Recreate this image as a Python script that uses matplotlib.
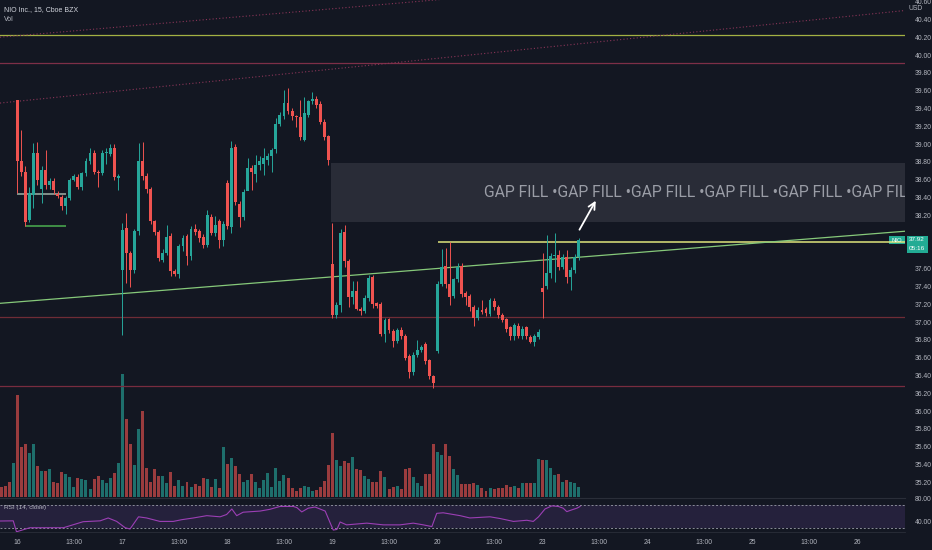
import matplotlib
matplotlib.use("Agg")
import matplotlib.pyplot as plt
from matplotlib.patches import Rectangle
import numpy as np

# NIO 15 min candles, sessions 16,17,18,19,20 and part of 23 (26 bars per session)
opens = [
    39.49, 38.81, 38.69, 38.15, 38.43, 38.90, 38.50, 38.71, 38.54, 38.59, 38.44, 38.41, 38.30, 38.39, 38.60, 38.63, 38.52, 38.67, 38.81, 38.90, 38.69, 38.67, 38.90, 38.89, 38.96, 38.62,
    37.58, 38.06, 37.78, 37.58, 38.02, 38.81, 38.64, 38.49, 38.13, 38.01, 37.70, 37.78, 37.97, 37.57, 37.54, 37.85, 37.97, 37.74, 38.04, 38.02, 37.96, 37.87, 38.18, 38.00, 38.13, 37.92,
    38.56, 38.07, 38.97, 38.33, 38.18, 38.47, 38.73, 38.66, 38.76, 38.77, 38.82, 38.86, 38.94, 39.23, 39.31, 39.46, 39.37, 39.31, 39.30, 39.05, 39.33, 39.48, 39.51, 39.45, 39.25, 39.09,
    37.65, 37.08, 37.19, 38.01, 37.68, 37.28, 37.35, 37.15, 37.12, 37.27, 37.51, 37.21, 37.20, 36.87, 37.03, 36.90, 36.79, 36.91, 36.84, 36.62, 36.44, 36.63, 36.68, 36.75, 36.57, 36.39,
    36.67, 37.43, 37.63, 37.43, 37.29, 37.48, 37.63, 37.33, 37.29, 37.17, 37.04, 37.13, 37.15, 37.09, 37.24, 37.17, 37.08, 37.03, 36.94, 36.84, 36.96, 36.84, 36.94, 36.83, 36.78, 36.83,
    37.38, 37.40, 37.55, 37.74, 37.75, 37.62, 37.73, 37.51, 37.59, 37.73,
]
highs = [
    39.50, 39.16, 38.75, 38.52, 39.01, 39.02, 38.75, 38.93, 38.62, 38.62, 38.47, 38.43, 38.42, 38.62, 38.66, 38.66, 38.69, 38.84, 38.95, 38.93, 38.71, 38.93, 38.95, 39.00, 39.00, 38.66,
    38.11, 38.22, 37.80, 38.05, 39.01, 39.02, 38.67, 38.52, 38.15, 38.03, 37.82, 38.09, 38.00, 37.60, 37.88, 37.98, 37.99, 38.08, 38.10, 38.05, 37.99, 38.26, 38.21, 38.19, 38.16, 38.13,
    38.60, 39.03, 39.00, 38.36, 38.49, 38.84, 38.76, 38.88, 38.87, 38.95, 38.90, 38.95, 39.29, 39.36, 39.61, 39.63, 39.40, 39.33, 39.50, 39.53, 39.50, 39.58, 39.54, 39.48, 39.28, 39.10,
    38.11, 37.22, 38.05, 38.09, 37.71, 37.46, 37.46, 37.17, 37.30, 37.53, 37.53, 37.23, 37.22, 37.04, 37.05, 36.92, 36.93, 36.94, 36.86, 36.64, 36.66, 36.80, 36.74, 36.78, 36.59, 36.40,
    37.46, 37.82, 37.83, 37.90, 37.50, 37.66, 37.66, 37.35, 37.31, 37.19, 37.17, 37.25, 37.17, 37.27, 37.27, 37.19, 37.10, 37.05, 36.96, 36.99, 36.99, 36.95, 36.96, 36.85, 36.86, 36.92,
    37.78, 37.98, 37.77, 38.00, 37.81, 37.76, 37.81, 37.62, 37.76, 37.94,
]
lows = [
    38.45, 38.64, 38.08, 38.12, 38.28, 38.54, 38.34, 38.50, 38.50, 38.44, 38.39, 38.26, 38.21, 38.37, 38.58, 38.50, 38.48, 38.64, 38.78, 38.66, 38.52, 38.65, 38.78, 38.87, 38.60, 38.48,
    36.85, 37.44, 37.39, 37.55, 37.98, 38.60, 38.45, 38.10, 37.98, 37.68, 37.67, 37.75, 37.52, 37.52, 37.49, 37.80, 37.64, 37.70, 37.98, 37.90, 37.83, 37.84, 37.98, 37.97, 37.83, 37.85,
    38.04, 38.00, 38.32, 38.07, 38.15, 38.48, 38.48, 38.57, 38.71, 38.65, 38.76, 38.68, 38.90, 39.20, 39.28, 39.34, 39.27, 39.19, 39.05, 39.03, 39.30, 39.45, 39.40, 39.22, 39.04, 38.76,
    37.05, 37.05, 37.11, 37.62, 37.17, 37.20, 37.13, 37.08, 37.10, 37.24, 37.16, 37.16, 36.84, 36.78, 36.88, 36.72, 36.76, 36.81, 36.57, 36.37, 36.40, 36.61, 36.66, 36.53, 36.36, 36.26,
    36.65, 37.40, 37.38, 37.19, 37.27, 37.45, 37.28, 37.19, 37.12, 36.95, 37.02, 37.09, 37.07, 37.07, 37.14, 37.05, 37.00, 36.89, 36.80, 36.80, 36.82, 36.81, 36.81, 36.76, 36.73, 36.81,
    37.05, 37.37, 37.50, 37.45, 37.59, 37.60, 37.44, 37.36, 37.55, 37.70,
]
closes = [
    38.81, 38.69, 38.12, 38.45, 38.90, 38.60, 38.71, 38.54, 38.59, 38.48, 38.42, 38.30, 38.39, 38.60, 38.64, 38.52, 38.67, 38.81, 38.90, 38.69, 38.67, 38.90, 38.91, 38.95, 38.63, 38.64,
    38.03, 37.78, 37.58, 38.02, 38.81, 38.64, 38.49, 38.13, 38.01, 37.72, 37.78, 37.96, 37.57, 37.54, 37.85, 37.94, 37.74, 38.05, 38.01, 37.94, 37.87, 38.20, 38.00, 38.09, 37.92, 38.10,
    38.08, 38.95, 38.35, 38.18, 38.46, 38.73, 38.68, 38.76, 38.81, 38.84, 38.87, 38.93, 39.23, 39.33, 39.46, 39.37, 39.31, 39.30, 39.08, 39.35, 39.48, 39.51, 39.44, 39.25, 39.08, 38.82,
    37.08, 37.19, 38.00, 37.68, 37.28, 37.35, 37.15, 37.12, 37.27, 37.50, 37.20, 37.18, 36.87, 37.02, 36.91, 36.79, 36.91, 36.84, 36.60, 36.44, 36.63, 36.69, 36.72, 36.56, 36.39, 36.31,
    37.43, 37.62, 37.43, 37.28, 37.48, 37.62, 37.31, 37.28, 37.17, 37.05, 37.13, 37.11, 37.10, 37.25, 37.17, 37.08, 37.02, 36.92, 36.84, 36.97, 36.84, 36.92, 36.84, 36.78, 36.84, 36.89,
    37.34, 37.55, 37.74, 37.75, 37.62, 37.73, 37.51, 37.59, 37.73, 37.92,
]
# volume, thousands of shares
volume = [
    2040, 1006, 1060, 874, 1060, 620, 526, 526, 566, 300, 286, 500, 454, 394, 194, 386, 354, 340, 154, 354, 420, 340, 286, 386, 474, 674,
    2460, 1560, 1060, 640, 1360, 1720, 580, 300, 560, 420, 420, 280, 500, 220, 340, 220, 300, 200, 260, 220, 380, 360, 200, 360, 180, 1000,
    660, 780, 620, 460, 300, 340, 460, 300, 180, 340, 480, 200, 580, 320, 440, 380, 180, 120, 180, 220, 206, 126, 140, 206, 326, 634,
    1286, 740, 620, 726, 674, 806, 560, 540, 420, 354, 300, 300, 526, 394, 154, 206, 220, 166, 566, 574, 406, 274, 220, 460, 460, 1060,
    906, 840, 1060, 820, 566, 434, 260, 260, 260, 274, 234, 174, 126, 174, 154, 174, 174, 234, 206, 220, 180, 274, 274, 274, 274, 754,
    740, 740, 574, 440, 454, 306, 340, 306, 274, 206,
]
# last bars of the previous session, only their volume is on screen
pre_volume = [206, 220, 306, 674]
pre_up = [False, False, False, True]

# RSI(14): bar position, value
rsi_pos = [-4.3, -1, -0.2, 3.1, 11.4, 16.3, 20.5, 22.5, 24.6, 26.7, 27.9, 30, 32, 35.3, 38.6, 40.7,
           43.6, 46.9, 50.2, 51.8, 53.1, 54.3, 55.9, 60.1, 62.5, 65, 68.3, 69.2, 70.4, 72, 73.7, 76.2,
           77.4, 78.2, 79.1, 79.9, 81.5, 86.5, 90.6, 94.7, 98, 100.5, 102.6, 103.8, 105.4, 109.6, 112,
           114.5, 117, 119.5, 122.8, 126.1, 127.7, 129, 130.6, 132.3, 133.9, 135.1, 136, 137.2, 138.5, 139.3]
rsi_val = [41.7, 42, 23, 30, 30, 40.5, 42, 47, 41, 30, 27.8, 49, 47, 41, 41, 44,
           47, 51, 49, 53, 62.6, 51, 57, 59, 62, 67, 67, 65, 57.5, 64, 66, 59,
           39, 26, 27, 40, 35, 38, 35, 35, 38, 35, 32, 55, 56, 51, 47,
           48, 49, 46, 41, 43, 41, 49, 62.6, 68, 67, 64, 58, 61, 64, 67]

day_labels = ["16", "17", "18", "19", "20", "23", "24", "25", "26"]
bars_per_day = 26

# drawn levels
h_levels = [40.22, 39.91, 37.06, 36.28]
h_colors = ["#a3b143", "#7e2f48", "#6f2c36", "#782c3f"]
res_level = 37.90
res_start = 104
trend_start = (-4.28, 37.21)
trend_end = (219.7, 38.02)
dotted_a = [(-4.28, 39.46), (219.7, 40.50)]
dotted_b = [(-4.28, 40.20), (219.7, 41.07)]
gap_low, gap_high, gap_start = 38.12, 38.79, 77.6
box_levels = [(38.44, 0, 12, "#9fb3a8"), (38.08, 1.9, 12, "#4caf50")]

BG = "#131722"
UP = "#26a69a"
DOWN = "#ef5350"
TXT = "#b2b5be"
W, H = 932, 550

plt.rcParams["font.family"] = ["Liberation Sans", "DejaVu Sans"]

fig = plt.figure(figsize=(W / 100, H / 100), dpi=100, facecolor=BG)


def fx(px):
    return px / W


def fy(py):
    return 1 - py / H


ax = fig.add_axes([0, fy(497), fx(905), 497 / H])
axv = ax.twinx()
axr = fig.add_axes([0, fy(532), fx(905), 34 / H])

ax.set_zorder(2)
axv.set_zorder(1)
ax.patch.set_visible(False)
axv.set_facecolor(BG)
axr.set_facecolor(BG)

x = np.arange(len(closes))
xlim = (-4.28, 219.7)
for a in (ax, axv, axr):
    a.set_xlim(*xlim)
    for s in a.spines.values():
        s.set_visible(False)
ax.set_ylim(35.034, 40.618)

# volume
up = np.array(closes) >= np.array(opens)
vcol = np.where(up, UP, DOWN)
axv.bar(x, volume, width=0.74, color=vcol, alpha=0.62, linewidth=0)
axv.bar(np.arange(-len(pre_volume), 0), pre_volume, width=0.74,
        color=[UP if u else DOWN for u in pre_up], alpha=0.62, linewidth=0)
axv.set_ylim(0, 497 * 20)
axv.set_yticks([])
axv.tick_params(right=False, labelright=False)

# gap zone and text
ax.add_patch(Rectangle((gap_start, gap_low), xlim[1] - gap_start, gap_high - gap_low,
                       facecolor="#787b86", alpha=0.22, linewidth=0, zorder=1))
ax.text(115.5, 38.46, "GAP FILL •GAP FILL •GAP FILL •GAP FILL •GAP FILL •GAP FILL",
        family=["Roboto", "DejaVu Sans"], fontsize=11.3, color="#9a9da6",
        va="center", ha="left", clip_on=True, zorder=2)

# lines
for lvl, col in zip(h_levels, h_colors):
    ax.axhline(lvl, color=col, lw=0.9, zorder=1)
ax.hlines(res_level, res_start, xlim[1], color="#dfe47c", lw=1.1, zorder=3)
ax.plot([trend_start[0], trend_end[0]], [trend_start[1], trend_end[1]], color="#86c97a", lw=0.9, zorder=3)
for seg in (dotted_a, dotted_b):
    ax.plot([seg[0][0], seg[1][0]], [seg[0][1], seg[1][1]], color="#8a3558", lw=0.8,
            linestyle=(0, (1, 2)), zorder=1)
for lvl, x0, x1, col in box_levels:
    ax.hlines(lvl, x0, x1, color=col, lw=1.1, zorder=3)

# candles
o = np.array(opens)
c = np.array(closes)
ccol = np.where(up, UP, DOWN)
ax.vlines(x, lows, highs, color=ccol, lw=0.7, zorder=4)
body = np.maximum(np.abs(c - o), 0.012)
ax.bar(x, body, bottom=np.minimum(o, c), width=0.72, color=ccol, linewidth=0, zorder=5)

# arrow to the gap
ax.annotate("", xy=(143.5, 38.39), xytext=(138.8, 38.01),
            arrowprops=dict(arrowstyle="->", color="white", lw=1.3, mutation_scale=12), zorder=6)

# price scale (labels under the last-price tag are hidden, as on the platform)
price_ticks = np.round(np.arange(35.2, 40.61, 0.2), 2)
ax.set_yticks(price_ticks)
ax.set_yticklabels(["" if abs(t - closes[-1]) < 0.15 else f"{t:.2f}" for t in price_ticks])
ax.yaxis.set_ticks_position("right")
ax.tick_params(axis="y", length=0, pad=7, labelsize=4.9, labelcolor=TXT)
ax.set_xticks([])
fig.text(fx(916), fy(9), "USD", color=TXT, fontsize=4.9, ha="center", va="center")

# last price tag
yd = ax.transData.transform((0, closes[-1]))[1]
fig.add_artist(Rectangle((889, yd - 4), 16, 8, transform=None, facecolor="#22ab94", linewidth=0))
fig.add_artist(Rectangle((906.5, yd - 13), 21, 17, transform=None, facecolor="#22ab94", linewidth=0))
fig.text(fx(897), yd / H, "NIO", color="white", fontsize=4.3, ha="center", va="center")
fig.text(fx(917), (yd + 0.3) / H, f"{closes[-1]:.2f}", color="white", fontsize=4.6, ha="center", va="center")
fig.text(fx(917), (yd - 8.5) / H, "05:16", color="white", fontsize=4.6, ha="center", va="center")

# RSI pane
axr.set_ylim(22.6, 81.7)
axr.axhspan(30, 70, color="#7e57c2", alpha=0.17, linewidth=0)
axr.axhline(70, color="#8a8d98", lw=0.7, linestyle=(0, (2, 2)))
axr.axhline(30, color="#8a8d98", lw=0.7, linestyle=(0, (2, 2)))
axr.plot(rsi_pos, rsi_val, color="#9c3fb5", lw=0.8)
axr.yaxis.set_ticks_position("right")
axr.set_yticks([40, 80])
axr.set_yticklabels(["40.00", "80.00"])
axr.tick_params(axis="y", length=0, pad=7, labelsize=4.9, labelcolor=TXT)
axr.spines["top"].set_visible(True)
axr.spines["top"].set_color("#2a2e39")
axr.spines["top"].set_linewidth(0.8)
axr.spines["bottom"].set_visible(True)
axr.spines["bottom"].set_color("#2a2e39")
axr.spines["bottom"].set_linewidth(0.6)

tick_pos, tick_lab = [], []
for i, d in enumerate(day_labels):
    tick_pos.append(i * bars_per_day)
    tick_lab.append(d)
    if i * bars_per_day + 14 < xlim[1]:
        tick_pos.append(i * bars_per_day + 14)
        tick_lab.append("13:00")
axr.set_xticks(tick_pos)
axr.set_xticklabels(tick_lab)
axr.tick_params(axis="x", length=0, pad=5, labelsize=4.9, labelcolor=TXT)

# legends
fig.text(fx(4), fy(10), "NIO Inc., 15, Cboe BZX", color="#d1d4dc", fontsize=5, ha="left", va="center")
fig.text(fx(4), fy(19.5), "Vol", color=TXT, fontsize=5, ha="left", va="center")
fig.text(fx(4), fy(508), "RSI (14, close)", color=TXT, fontsize=4.6, ha="left", va="center")

fig.savefig("out.png", dpi=100, facecolor=BG)
